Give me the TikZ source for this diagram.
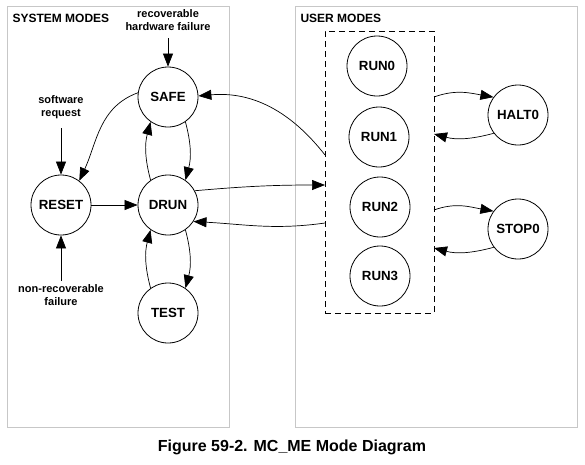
\documentclass[tikz,border=0pt]{standalone}
\usepackage{fontspec}
\setmainfont{Liberation Sans}
\usetikzlibrary{arrows.meta}
\begin{document}
\begin{tikzpicture}[x=1pt,y=-1pt,
  panel/.style={draw=black!22,line width=1pt},
  state/.style={circle,draw,line width=0.8pt,minimum size=60pt,inner sep=0pt,font=\fontsize{13.3}{15}\selectfont\bfseries},
  lbl/.style={align=center,font=\fontsize{11}{13}\selectfont\bfseries},
  ttl/.style={anchor=west,font=\fontsize{12}{14}\selectfont\bfseries},
  conn/.style={line width=0.7pt,-{Triangle[length=13pt,width=10pt]}},
  dashbox/.style={draw,line width=0.8pt,dash pattern=on 6pt off 4pt}]
\useasboundingbox (0,0) rectangle (585,464);
% panels
\draw[panel] (7,6) rectangle (229,427);
\draw[panel] (295,6) rectangle (577,427);
\node[ttl] (systitle) at (9,18) {SYSTEM MODES};
\node[ttl] (usertitle) at (297,18) {USER MODES};
% dashed box
\node[dashbox,minimum width=109pt,minimum height=282pt,inner sep=0pt] (box) at (379.5,172) {};
% states
\node[state] (safe) at (168,97) {SAFE};
\node[state] (reset) at (61,205) {RESET};
\node[state] (drun) at (168,205) {DRUN};
\node[state] (test) at (168,313) {TEST};
\node[state] (run0) at (377,66) {RUN0};
\node[state] (run1) at (379,137) {RUN1};
\node[state] (run2) at (380,207) {RUN2};
\node[state] (run3) at (380,276) {RUN3};
\node[state] (halt) at (518,115) {HALT0};
\node[state] (stop) at (518,229) {STOP0};
% labels
\node[lbl] (hwf) at (168,20.5) {recoverable\\hardware failure};
\node[lbl] (swr) at (61,107.5) {software\\request};
\node[lbl] (nrf) at (61,295.5) {non-recoverable\\failure};
\coordinate (hwfa) at (168,38);
\coordinate (swra) at (61,128);
\coordinate (nrfa) at (61,281);
\draw[conn] (hwfa) -- (safe.north);
\draw[conn] (swra) -- (reset.north);
\draw[conn] (nrfa) -- (reset.south);
% system edges
\draw[conn] (safe.172) to[out=200,in=65] (reset.53);
\draw[conn] (reset.east) -- (drun.west);
\draw[conn] (drun.125) to[out=105,in=255] (safe.235);
\draw[conn] (safe.-55) to[out=-75,in=75] (drun.55);
\draw[conn] (drun.-55) to[out=-75,in=75] (test.55);
\draw[conn] (test.125) to[out=105,in=255] (drun.235);
% system-user edges
\coordinate (bl1) at (325,185);
\coordinate (bl2) at (325,223);
\coordinate (bl3) at (325,155);
\draw[conn] (drun.28) to[out=5,in=180] (bl1);
\draw[conn] (bl2) to[out=188,in=-3] (drun.-33);
\draw[conn] (bl3) to[out=128,in=5] (safe.2);
% user edges
\coordinate (br1) at (434,97);
\coordinate (br2) at (434,134);
\coordinate (br3) at (434,210);
\coordinate (br4) at (434,248);
\draw[conn] (br1) to[out=20,in=170] (halt.144);
\draw[conn] (halt.217) to[out=195,in=-15] (br2);
\draw[conn] (br3) to[out=20,in=170] (stop.144);
\draw[conn] (stop.217) to[out=195,in=-15] (br4);
% caption
\node[font=\fontsize{16}{18}\selectfont\bfseries] (cap) at (292,447) {Figure 59-2. MC\_ME Mode Diagram};
\end{tikzpicture}
\end{document}
